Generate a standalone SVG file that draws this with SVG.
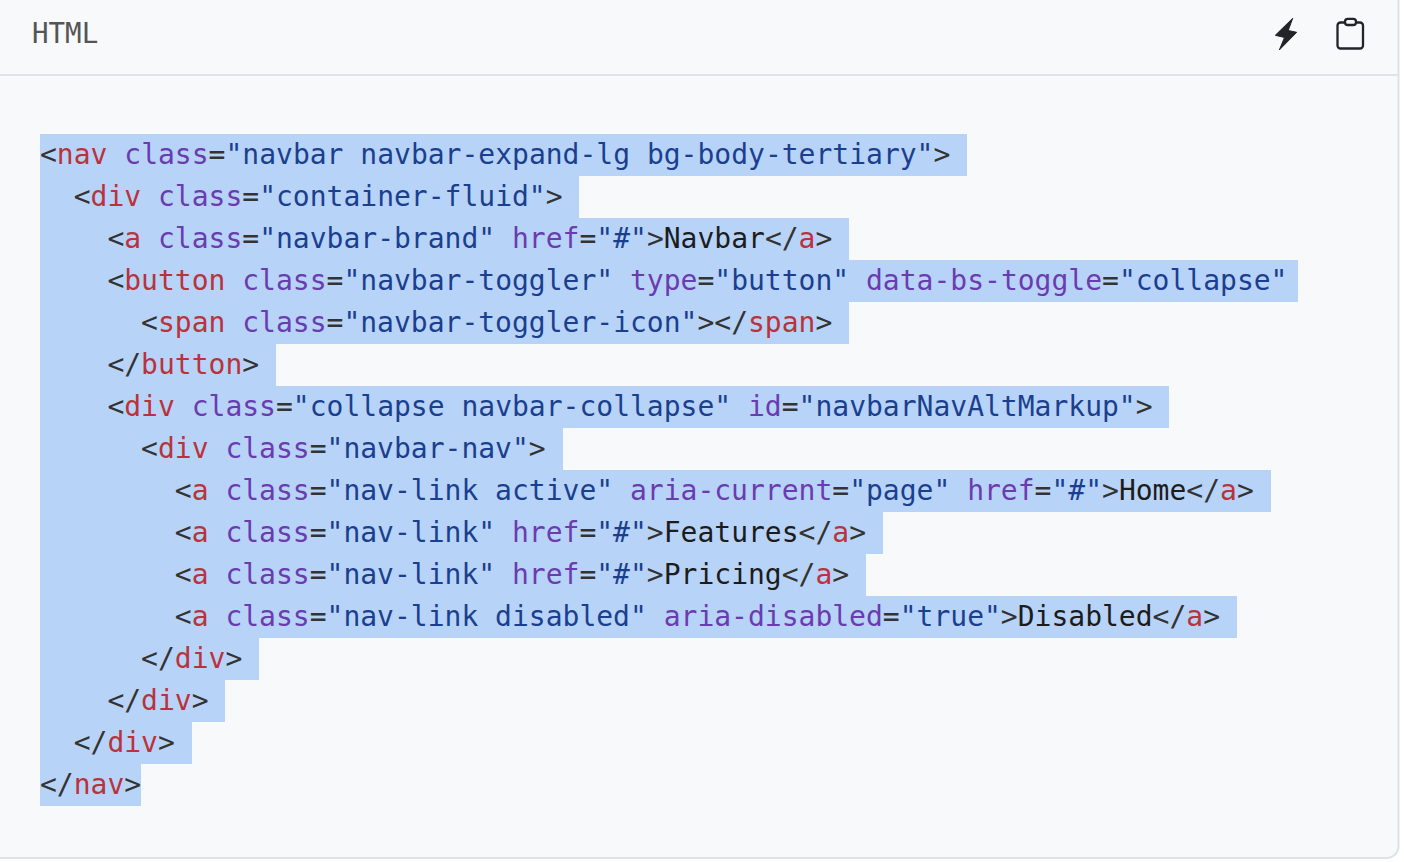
<svg xmlns="http://www.w3.org/2000/svg" width="1404" height="862" viewBox="0 0 1404 862">
<style>
.h{fill:#b8d3f8}
.c{font-family:"DejaVu Sans Mono","Liberation Mono",monospace;font-size:28px;fill:#333}
.t{fill:#b8333c}.a{fill:#6a3cb0}.s{fill:#1b3f8f}.x{fill:#1c1c1c}
</style>
<rect width="1404" height="862" fill="#fff"/>
<path d="M-2 -2H1398.500V846a12 12 0 0 1-12 12H-2Z" fill="#f8f9fb" stroke="#dfe2e7" stroke-width="2"/>
<rect x="0" y="74" width="1398" height="2" fill="#e0e3e8"/>
<text x="32" y="43" style="font-family:'DejaVu Sans Mono',monospace;font-size:27.500px;fill:#555">HTML</text>
<g id="icon-lightning"><path d="M1292.700 18.300L1275.300 35.300L1284.500 37.500L1279.300 50L1296.700 32.300L1288.200 30.500Z" fill="#212529" stroke="#212529" stroke-width="1" stroke-linejoin="round"/></g>
<g id="icon-clipboard" fill="none" stroke="#212529" stroke-width="2.300"><path d="M1344 22.500H1340.500a3 3 0 0 0-3 3V45.500a3 3 0 0 0 3 3H1360a3 3 0 0 0 3-3V25.500a3 3 0 0 0-3-3H1357"/><rect x="1345" y="18.800" width="11" height="6.200" rx="2.800"/></g>
<g id="selection">
<rect class="h" x="40" y="134" width="927" height="42"/>
<rect class="h" x="40" y="176" width="539" height="42"/>
<rect class="h" x="40" y="218" width="809" height="42"/>
<rect class="h" x="40" y="260" width="1258" height="42"/>
<rect class="h" x="40" y="302" width="809" height="42"/>
<rect class="h" x="40" y="344" width="236" height="42"/>
<rect class="h" x="40" y="386" width="1129" height="42"/>
<rect class="h" x="40" y="428" width="523" height="42"/>
<rect class="h" x="40" y="470" width="1231" height="42"/>
<rect class="h" x="40" y="512" width="843" height="42"/>
<rect class="h" x="40" y="554" width="826" height="42"/>
<rect class="h" x="40" y="596" width="1197" height="42"/>
<rect class="h" x="40" y="638" width="219" height="42"/>
<rect class="h" x="40" y="680" width="185" height="42"/>
<rect class="h" x="40" y="722" width="152" height="42"/>
<rect class="h" x="40" y="764" width="101" height="42"/>
</g>
<g id="code" class="c">
<text x="40" y="164">&lt;<tspan class="t">nav</tspan> <tspan class="a">class</tspan>=<tspan class="s">"navbar navbar-expand-lg bg-body-tertiary"</tspan>&gt;</text>
<text x="73.700" y="206">&lt;<tspan class="t">div</tspan> <tspan class="a">class</tspan>=<tspan class="s">"container-fluid"</tspan>&gt;</text>
<text x="107.400" y="248">&lt;<tspan class="t">a</tspan> <tspan class="a">class</tspan>=<tspan class="s">"navbar-brand"</tspan> <tspan class="a">href</tspan>=<tspan class="s">"#"</tspan>&gt;<tspan class="x">Navbar</tspan>&lt;/<tspan class="t">a</tspan>&gt;</text>
<text x="107.400" y="290">&lt;<tspan class="t">button</tspan> <tspan class="a">class</tspan>=<tspan class="s">"navbar-toggler"</tspan> <tspan class="a">type</tspan>=<tspan class="s">"button"</tspan> <tspan class="a">data-bs-toggle</tspan>=<tspan class="s">"collapse"</tspan></text>
<text x="141.100" y="332">&lt;<tspan class="t">span</tspan> <tspan class="a">class</tspan>=<tspan class="s">"navbar-toggler-icon"</tspan>&gt;&lt;/<tspan class="t">span</tspan>&gt;</text>
<text x="107.400" y="374">&lt;/<tspan class="t">button</tspan>&gt;</text>
<text x="107.400" y="416">&lt;<tspan class="t">div</tspan> <tspan class="a">class</tspan>=<tspan class="s">"collapse navbar-collapse"</tspan> <tspan class="a">id</tspan>=<tspan class="s">"navbarNavAltMarkup"</tspan>&gt;</text>
<text x="141.100" y="458">&lt;<tspan class="t">div</tspan> <tspan class="a">class</tspan>=<tspan class="s">"navbar-nav"</tspan>&gt;</text>
<text x="174.800" y="500">&lt;<tspan class="t">a</tspan> <tspan class="a">class</tspan>=<tspan class="s">"nav-link active"</tspan> <tspan class="a">aria-current</tspan>=<tspan class="s">"page"</tspan> <tspan class="a">href</tspan>=<tspan class="s">"#"</tspan>&gt;<tspan class="x">Home</tspan>&lt;/<tspan class="t">a</tspan>&gt;</text>
<text x="174.800" y="542">&lt;<tspan class="t">a</tspan> <tspan class="a">class</tspan>=<tspan class="s">"nav-link"</tspan> <tspan class="a">href</tspan>=<tspan class="s">"#"</tspan>&gt;<tspan class="x">Features</tspan>&lt;/<tspan class="t">a</tspan>&gt;</text>
<text x="174.800" y="584">&lt;<tspan class="t">a</tspan> <tspan class="a">class</tspan>=<tspan class="s">"nav-link"</tspan> <tspan class="a">href</tspan>=<tspan class="s">"#"</tspan>&gt;<tspan class="x">Pricing</tspan>&lt;/<tspan class="t">a</tspan>&gt;</text>
<text x="174.800" y="626">&lt;<tspan class="t">a</tspan> <tspan class="a">class</tspan>=<tspan class="s">"nav-link disabled"</tspan> <tspan class="a">aria-disabled</tspan>=<tspan class="s">"true"</tspan>&gt;<tspan class="x">Disabled</tspan>&lt;/<tspan class="t">a</tspan>&gt;</text>
<text x="141.100" y="668">&lt;/<tspan class="t">div</tspan>&gt;</text>
<text x="107.400" y="710">&lt;/<tspan class="t">div</tspan>&gt;</text>
<text x="73.700" y="752">&lt;/<tspan class="t">div</tspan>&gt;</text>
<text x="40" y="794">&lt;/<tspan class="t">nav</tspan>&gt;</text>
</g>
</svg>
